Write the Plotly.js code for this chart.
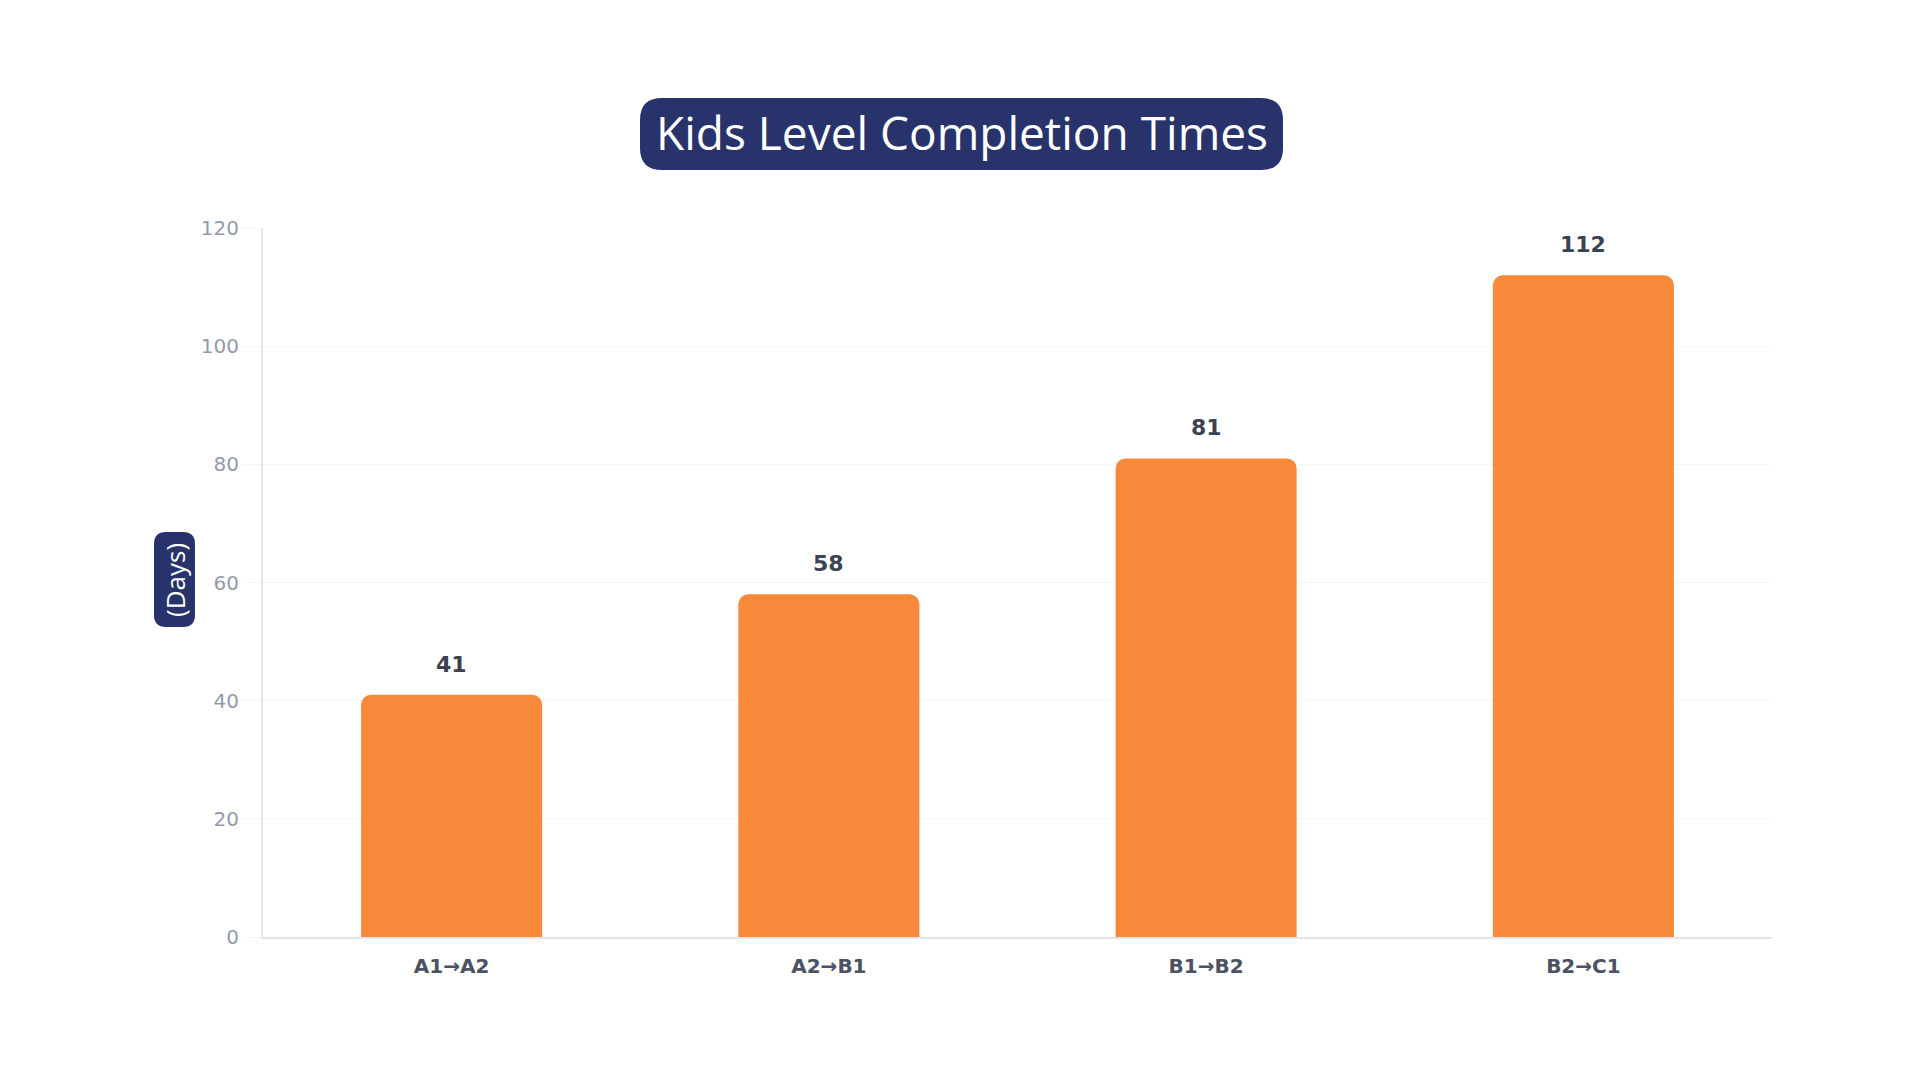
<!DOCTYPE html>
<html>
<head>
<meta charset="utf-8">
<script src="https://cdn.plot.ly/plotly-3.0.1.min.js"></script>
<style>
  html, body { margin:0; padding:0; background:#ffffff; }
  #chart { width:1920px; height:1080px; }
</style>
</head>
<body>
<div id="chart"></div>
<script>
// data
const levels = ['A1→A2', 'A2→B1', 'B1→B2', 'B2→C1'];
const days = [41, 58, 81, 112];
const yTicks = [0, 20, 40, 60, 80, 100, 120];

// page layout (pixels)
const W = 1920, H = 1080;
const M = { l:263, r:148, t:228, b:143 };
const navy = '#27336a';
const orange = '#f8883a';

// page pixel -> paper fraction
function px(x){ return (x - M.l) / (W - M.l - M.r); }
function py(y){ return (H - M.b - y) / (H - M.t - M.b); }

// rounded box path in paper coords, given page pixels
function roundBox(x0, y0, x1, y1, r){
    let rx = r / (W - M.l - M.r), ry = r / (H - M.t - M.b);
    let a = px(x0), b = px(x1), top = py(y0), bot = py(y1);
    return 'M' + (a+rx) + ',' + top +
        ' L' + (b-rx) + ',' + top + ' Q' + b + ',' + top + ' ' + b + ',' + (top-ry) +
        ' L' + b + ',' + (bot+ry) + ' Q' + b + ',' + bot + ' ' + (b-rx) + ',' + bot +
        ' L' + (a+rx) + ',' + bot + ' Q' + a + ',' + bot + ' ' + a + ',' + (bot+ry) +
        ' L' + a + ',' + (top-ry) + ' Q' + a + ',' + top + ' ' + (a+rx) + ',' + top + ' Z';
}

let trace = {
    type: 'bar',
    x: levels,
    y: days,
    marker: { color: orange, cornerradius: 10 },
    hoverinfo: 'x+y',
    showlegend: false
};

// value labels above the bars
let valueLabels = levels.map(function(lv, i){
    return {
        x: lv, y: days[i], xref: 'x', yref: 'y',
        text: '<b>' + days[i] + '</b>',
        showarrow: false, yanchor: 'bottom', yshift: 16,
        font: { family: '"DejaVu Sans", sans-serif', size: 22, color: '#3b4252' }
    };
});

let yTitle = {
    x: px(175), y: py(580), xref: 'paper', yref: 'paper',
    text: '(Days)', textangle: -90, showarrow: false,
    xanchor: 'center', yanchor: 'middle',
    font: { family: '"Open Sans", sans-serif', size: 26, color: '#ffffff' }
};

let layout = {
    width: W, height: H,
    paper_bgcolor: '#ffffff',
    plot_bgcolor: '#ffffff',
    margin: M,
    bargap: 0.52,
    title: {
        text: 'Kids Level Completion Times',
        x: 962 / W, xref: 'container', xanchor: 'center',
        y: 1 - 134 / H, yref: 'container', yanchor: 'middle',
        font: { family: '"Open Sans", sans-serif', size: 46, color: '#ffffff' }
    },
    xaxis: {
        type: 'category',
        showgrid: false,
        showline: true, linecolor: '#e3e5ea', linewidth: 2,
        ticks: '', ticklabelstandoff: 10,
        tickfont: { family: '"DejaVu Sans", sans-serif', size: 20, color: '#4b5263', weight: 'bold' },
        fixedrange: true
    },
    yaxis: {
        range: [0, 120],
        tickvals: yTicks,
        showgrid: true, gridcolor: '#f4f5f7', gridwidth: 1,
        zeroline: false,
        showline: true, linecolor: '#e6e8ec', linewidth: 2,
        ticks: 'outside', ticklen: 18, tickcolor: '#f4f5f7',
        tickfont: { family: '"DejaVu Sans", sans-serif', size: 20, color: '#939bab' },
        fixedrange: true
    },
    shapes: [
        { type: 'path', xref: 'paper', yref: 'paper', layer: 'above',
          path: roundBox(640, 98, 1283, 170, 22), fillcolor: navy, line: { width: 0 } },
        { type: 'path', xref: 'paper', yref: 'paper', layer: 'above',
          path: roundBox(154, 532, 195, 627, 12), fillcolor: navy, line: { width: 0 } }
    ],
    annotations: valueLabels.concat([yTitle])
};

Plotly.newPlot('chart', [trace], layout, { staticPlot: true, displaylogo: false });
</script>
</body>
</html>
